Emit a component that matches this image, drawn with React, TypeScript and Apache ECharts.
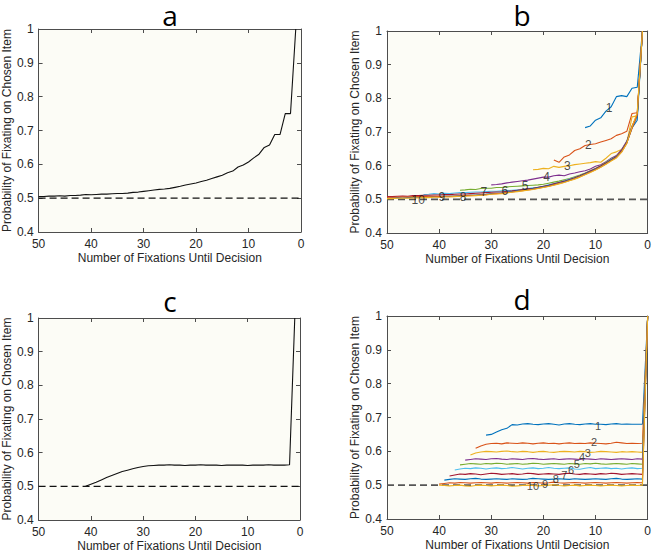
import React, { useEffect, useRef } from "react";
import * as echarts from "echarts";

// ---------- data ----------
const panelTitles = ["a", "b", "c", "d"];
const xAxisName = "Number of Fixations Until Decision";
const yAxisName = "Probability of Fixating on Chosen Item";
const chanceLevel = 0.5;
const xRange = [0, 50];
const yRange = [0.4, 1];

// MATLAB default colour order (cycled)
const seriesColors = ["#0072BD", "#D95319", "#EDB120", "#7E2F8E", "#77AC30", "#4DBEEE", "#A2142F", "#0072BD", "#D95319", "#EDB120"];

// Panel a: x from 50 down to 1
const aStart = 50;
const aValues = [
  0.505, 0.505, 0.506, 0.506, 0.507, 0.506, 0.508, 0.508, 0.509, 0.511,
  0.510, 0.511, 0.512, 0.512, 0.513, 0.514, 0.514, 0.515, 0.517, 0.518,
  0.520, 0.522, 0.524, 0.526, 0.527, 0.529, 0.532, 0.535, 0.539, 0.542,
  0.545, 0.549, 0.553, 0.558, 0.563, 0.568, 0.575, 0.580, 0.592, 0.598,
  0.607, 0.619, 0.630, 0.650, 0.657, 0.688, 0.688, 0.750, 0.750, 1.0,
];

// Panel b: series k starts at bStarts[k] and runs down to x = 1
const bStarts = [12, 18, 22, 30, 36, 43, 50, 50, 50, 50];
const b1 = [0.713, 0.718, 0.735, 0.742, 0.762, 0.775, 0.805, 0.808, 0.805, 0.830, 0.833, 1.0];
const b2 = [0.617, 0.610, 0.626, 0.632, 0.645, 0.650, 0.660, 0.663, 0.665, 0.670, 0.675, 0.680, 0.690, 0.695, 0.702, 0.755, 0.757, 1.0];
const b3 = [0.588, 0.589, 0.592, 0.591, 0.598, 0.595, 0.598, 0.600, 0.603, 0.605, 0.607, 0.609, 0.612, 0.610, 0.622, 0.636, 0.641, 0.648, 0.668, 0.745, 0.748, 1.0];
const b4 = [
  0.543, 0.544, 0.546, 0.549, 0.551, 0.553, 0.555, 0.557, 0.560, 0.563,
  0.566, 0.566, 0.570, 0.572, 0.570, 0.575, 0.578, 0.582, 0.585, 0.590,
  0.598, 0.603, 0.612, 0.622, 0.630, 0.648, 0.673, 0.718, 0.748, 1.0,
];
const b5 = [
  0.527, 0.528, 0.530, 0.529, 0.532, 0.533, 0.533, 0.535, 0.535, 0.537,
  0.538, 0.539, 0.540, 0.541, 0.542, 0.543, 0.545, 0.548, 0.551, 0.554,
  0.558, 0.562, 0.567, 0.572, 0.578, 0.585, 0.592, 0.600, 0.610, 0.620,
  0.628, 0.645, 0.671, 0.716, 0.746, 1.0,
];
const b6 = [
  0.514, 0.515, 0.517, 0.516, 0.518, 0.517, 0.519, 0.520, 0.520, 0.521,
  0.522, 0.522, 0.523, 0.524, 0.524, 0.525, 0.526, 0.527, 0.528, 0.530,
  0.532, 0.534, 0.536, 0.539, 0.543, 0.547, 0.551, 0.555, 0.560, 0.565,
  0.570, 0.577, 0.584, 0.591, 0.599, 0.608, 0.619, 0.627, 0.644, 0.670,
  0.714, 0.744, 1.0,
];
const b7 = [
  0.508, 0.508, 0.509, 0.510, 0.509, 0.511, 0.511, 0.512, 0.512, 0.513,
  0.513, 0.514, 0.514, 0.515, 0.516, 0.516, 0.517, 0.518, 0.519, 0.520,
  0.521, 0.522, 0.522, 0.524, 0.525, 0.527, 0.529, 0.531, 0.533, 0.536,
  0.539, 0.542, 0.546, 0.550, 0.554, 0.559, 0.564, 0.570, 0.577, 0.584,
  0.591, 0.599, 0.608, 0.618, 0.627, 0.645, 0.670, 0.715, 0.752, 1.0,
];
const b8 = [
  0.503, 0.504, 0.505, 0.504, 0.505, 0.506, 0.506, 0.507, 0.507, 0.508,
  0.508, 0.509, 0.509, 0.510, 0.511, 0.511, 0.512, 0.513, 0.514, 0.515,
  0.517, 0.518, 0.519, 0.521, 0.523, 0.525, 0.527, 0.529, 0.531, 0.534,
  0.537, 0.540, 0.544, 0.548, 0.552, 0.557, 0.562, 0.568, 0.575, 0.582,
  0.589, 0.597, 0.606, 0.616, 0.625, 0.642, 0.668, 0.712, 0.735, 1.0,
];
const b9 = [
  0.506, 0.506, 0.507, 0.507, 0.507, 0.508, 0.508, 0.508, 0.509, 0.509,
  0.508, 0.509, 0.509, 0.510, 0.510, 0.511, 0.512, 0.512, 0.513, 0.514,
  0.516, 0.517, 0.518, 0.520, 0.522, 0.524, 0.526, 0.528, 0.530, 0.533,
  0.536, 0.539, 0.543, 0.547, 0.551, 0.556, 0.561, 0.567, 0.574, 0.581,
  0.588, 0.596, 0.605, 0.615, 0.624, 0.641, 0.667, 0.711, 0.750, 1.0,
];
const b10 = [
  0.502, 0.502, 0.503, 0.503, 0.503, 0.504, 0.504, 0.505, 0.505, 0.506,
  0.506, 0.507, 0.507, 0.508, 0.509, 0.509, 0.510, 0.511, 0.512, 0.513,
  0.515, 0.516, 0.517, 0.519, 0.521, 0.523, 0.525, 0.527, 0.529, 0.532,
  0.535, 0.538, 0.542, 0.546, 0.550, 0.555, 0.560, 0.566, 0.573, 0.580,
  0.587, 0.595, 0.604, 0.614, 0.623, 0.640, 0.666, 0.716, 0.757, 1.0,
];
const bSeries = [b1, b2, b3, b4, b5, b6, b7, b8, b9, b10];
const curveLabels = ["1", "2", "3", "4", "5", "6", "7", "8", "9", "10"];
const bLabelX = [7.4, 11.4, 15.4, 19.4, 23.5, 27.4, 31.4, 35.4, 39.5, 44];
const bLabelY = [0.771, 0.662, 0.600, 0.565, 0.539, 0.525, 0.521, 0.507, 0.507, 0.499];

// Panel c: x from 41 down to 1
const cStart = 41;
const cValues = [
  0.500, 0.506, 0.512, 0.519, 0.526, 0.532, 0.538, 0.544, 0.548, 0.552,
  0.556, 0.559, 0.561, 0.562, 0.563, 0.563, 0.564, 0.563, 0.563, 0.562,
  0.563, 0.563, 0.564, 0.563, 0.563, 0.563, 0.562, 0.563, 0.563, 0.563,
  0.563, 0.562, 0.563, 0.563, 0.563, 0.564, 0.563, 0.563, 0.563, 0.564,
  1.0,
];

// Panel d: series k starts at dStarts[k] and runs down to x = 0
const dStarts = [31, 33, 34, 35, 36, 37, 38, 39, 40, 40];
const d1 = [
  0.648, 0.650, 0.657, 0.664, 0.668, 0.679, 0.678, 0.681, 0.682, 0.680,
  0.679, 0.681, 0.682, 0.680, 0.678, 0.681, 0.682, 0.680, 0.679, 0.681,
  0.682, 0.680, 0.680, 0.679, 0.681, 0.682, 0.680, 0.681, 0.680, 0.680,
  0.680, 1.0,
];
const d2 = [
  0.609, 0.616, 0.621, 0.623, 0.624, 0.622, 0.625, 0.624, 0.623, 0.625,
  0.624, 0.622, 0.624, 0.625, 0.623, 0.624, 0.622, 0.624, 0.625, 0.623,
  0.624, 0.623, 0.625, 0.624, 0.623, 0.622, 0.624, 0.627, 0.625, 0.623,
  0.624, 0.623, 0.624, 1.0,
];
const d3 = [
  0.589, 0.595, 0.598, 0.600, 0.599, 0.598, 0.600, 0.601, 0.599, 0.598,
  0.600, 0.599, 0.597, 0.599, 0.600, 0.598, 0.597, 0.599, 0.600, 0.599,
  0.598, 0.600, 0.599, 0.597, 0.598, 0.600, 0.599, 0.598, 0.597, 0.599,
  0.598, 0.599, 0.598, 0.597, 1.0,
];
const d4 = [
  0.574, 0.576, 0.578, 0.577, 0.576, 0.578, 0.579, 0.577, 0.576, 0.578,
  0.577, 0.576, 0.578, 0.579, 0.577, 0.576, 0.577, 0.578, 0.576, 0.577,
  0.578, 0.577, 0.576, 0.578, 0.577, 0.576, 0.578, 0.577, 0.576, 0.577,
  0.578, 0.577, 0.576, 0.578, 0.577, 1.0,
];
const d5 = [
  0.560, 0.562, 0.564, 0.563, 0.562, 0.564, 0.563, 0.565, 0.564, 0.562,
  0.563, 0.564, 0.562, 0.563, 0.565, 0.564, 0.562, 0.563, 0.564, 0.563,
  0.562, 0.564, 0.563, 0.562, 0.564, 0.563, 0.565, 0.563, 0.562, 0.563,
  0.564, 0.563, 0.562, 0.564, 0.563, 0.562, 1.0,
];
const d6 = [
  0.545, 0.548, 0.550, 0.549, 0.551, 0.550, 0.548, 0.550, 0.551, 0.549,
  0.550, 0.552, 0.550, 0.548, 0.550, 0.551, 0.549, 0.550, 0.552, 0.550,
  0.549, 0.550, 0.551, 0.548, 0.547, 0.550, 0.552, 0.549, 0.550, 0.551,
  0.549, 0.550, 0.548, 0.550, 0.551, 0.549, 0.550, 1.0,
];
const d7 = [
  0.527, 0.530, 0.533, 0.532, 0.534, 0.533, 0.531, 0.533, 0.535, 0.534,
  0.532, 0.533, 0.534, 0.532, 0.533, 0.535, 0.534, 0.532, 0.533, 0.534,
  0.533, 0.532, 0.534, 0.535, 0.533, 0.532, 0.534, 0.533, 0.532, 0.534,
  0.533, 0.535, 0.534, 0.532, 0.533, 0.534, 0.533, 0.532, 1.0,
];
const d8 = [
  0.515, 0.517, 0.519, 0.518, 0.517, 0.519, 0.520, 0.518, 0.517, 0.518,
  0.519, 0.518, 0.517, 0.519, 0.518, 0.517, 0.518, 0.520, 0.519, 0.518,
  0.517, 0.518, 0.519, 0.518, 0.517, 0.519, 0.518, 0.517, 0.518, 0.519,
  0.518, 0.517, 0.519, 0.520, 0.518, 0.517, 0.518, 0.519, 0.518, 1.0,
];
const d9 = [
  0.503, 0.505, 0.507, 0.506, 0.508, 0.507, 0.506, 0.507, 0.508, 0.507,
  0.506, 0.508, 0.507, 0.506, 0.507, 0.508, 0.507, 0.506, 0.508, 0.507,
  0.506, 0.507, 0.509, 0.507, 0.506, 0.507, 0.508, 0.507, 0.506, 0.507,
  0.508, 0.507, 0.506, 0.507, 0.508, 0.507, 0.506, 0.507, 0.508, 0.507,
  1.0,
];
const d10 = [
  0.500, 0.499, 0.498, 0.499, 0.500, 0.498, 0.497, 0.499, 0.500, 0.499,
  0.498, 0.499, 0.500, 0.499, 0.497, 0.498, 0.499, 0.500, 0.499, 0.498,
  0.499, 0.500, 0.501, 0.499, 0.498, 0.499, 0.500, 0.498, 0.499, 0.500,
  0.499, 0.498, 0.499, 0.500, 0.499, 0.498, 0.499, 0.500, 0.499, 0.500,
  1.0,
];
const dSeries = [d1, d2, d3, d4, d5, d6, d7, d8, d9, d10];
const dLabelX = [9.5, 10.3, 11.5, 12.6, 13.6, 14.7, 16.0, 17.6, 19.7, 22.0];
const dLabelY = [0.676, 0.628, 0.596, 0.582, 0.562, 0.546, 0.529, 0.517, 0.503, 0.498];

// ---------- layout / style ----------
const FONT = "'Liberation Sans', Arial, sans-serif";
const axisColor = "#4d4d4d";
const textColor = "#262626";
const plotBg = "#fcfcf6";
const grids = [
  { left: 36, top: 29, width: 265, height: 203 },
  { left: 387, top: 31, width: 263, height: 202 },
  { left: 36, top: 318, width: 264, height: 203 },
  { left: 387, top: 316, width: 263, height: 203 },
];
const titlePos = [
  [170, 15],
  [522, 15],
  [170, 301],
  [522, 299],
];

const toPairs = (start: number, vals: number[]) => vals.map((v, i) => [start - i, v]);

function buildOption() {
  const xAxes: any[] = [];
  const yAxes: any[] = [];
  const series: any[] = [];

  grids.forEach((_, i) => {
    const tick = { show: true, inside: true, length: 4, lineStyle: { color: axisColor } };
    const line = { show: true, onZero: false, lineStyle: { color: axisColor, width: 1 } };
    xAxes.push({
      type: "value", gridIndex: i, min: xRange[0], max: xRange[1], interval: 10, inverse: true,
      position: "bottom", name: xAxisName, nameLocation: "middle", nameGap: 20,
      nameTextStyle: { fontSize: 12, color: textColor, fontFamily: FONT },
      axisLine: line, axisTick: tick, splitLine: { show: false },
      axisLabel: { color: textColor, fontSize: 12, fontFamily: FONT, margin: 6 },
    });
    xAxes.push({
      type: "value", gridIndex: i, min: xRange[0], max: xRange[1], interval: 10, inverse: true,
      position: "top", axisLine: line, axisTick: tick, splitLine: { show: false },
      axisLabel: { show: false },
    });
    yAxes.push({
      type: "value", gridIndex: i, min: yRange[0], max: yRange[1], interval: 0.1,
      position: "left", name: yAxisName, nameLocation: "middle", nameGap: 23, nameRotate: 90,
      nameTextStyle: { fontSize: 12, color: textColor, fontFamily: FONT },
      axisLine: line, axisTick: tick, splitLine: { show: false },
      axisLabel: { color: textColor, fontSize: 12, fontFamily: FONT, margin: 5 },
    });
    yAxes.push({
      type: "value", gridIndex: i, min: yRange[0], max: yRange[1], interval: 0.1,
      position: "right", axisLine: line, axisTick: tick, splitLine: { show: false },
      axisLabel: { show: false },
    });
    const gray = i === 1 || i === 3;
    series.push({
      type: "line", xAxisIndex: 2 * i, yAxisIndex: 2 * i, symbol: "none", silent: true, z: 1,
      data: [[xRange[1], chanceLevel], [xRange[0], chanceLevel]],
      lineStyle: { color: gray ? "#555" : "#111", width: gray ? 1.6 : 1.1, type: [7, 4] },
    });
  });

  series.push({
    type: "line", xAxisIndex: 0, yAxisIndex: 0, symbol: "none", z: 3,
    data: toPairs(aStart, aValues), lineStyle: { color: "#111", width: 1.1 },
  });
  series.push({
    type: "line", xAxisIndex: 4, yAxisIndex: 4, symbol: "none", z: 3,
    data: toPairs(cStart, cValues), lineStyle: { color: "#111", width: 1.1 },
  });

  bSeries.forEach((vals, k) => {
    series.push({
      type: "line", xAxisIndex: 2, yAxisIndex: 2, symbol: "none", z: 3,
      data: toPairs(bStarts[k], vals), lineStyle: { color: seriesColors[k], width: 1.1 },
    });
  });
  dSeries.forEach((vals, k) => {
    series.push({
      type: "line", xAxisIndex: 6, yAxisIndex: 6, symbol: "none", z: 3,
      data: toPairs(dStarts[k], vals), lineStyle: { color: seriesColors[k], width: 1.1 },
    });
  });

  const labelSeries = (axisIdx: number, xs: number[], ys: number[], size: number) => ({
    type: "scatter", xAxisIndex: axisIdx, yAxisIndex: axisIdx, symbolSize: 0, z: 5, silent: true,
    data: xs.map((x, k) => ({ value: [x, ys[k]], name: curveLabels[k] })),
    label: {
      show: true, position: "inside", formatter: (p: any) => p.name,
      color: "#1a1a1a", fontSize: size, fontFamily: FONT,
    },
  });
  series.push(labelSeries(2, bLabelX, bLabelY, 12));
  series.push(labelSeries(6, dLabelX, dLabelY, 11));

  return {
    animation: false,
    backgroundColor: "#ffffff",
    grid: grids.map((g) => ({ ...g, show: true, backgroundColor: plotBg, borderWidth: 0, containLabel: false })),
    xAxis: xAxes,
    yAxis: yAxes,
    series,
    graphic: panelTitles.map((t, i) => ({
      type: "text", x: titlePos[i][0], y: titlePos[i][1], z: 10,
      style: { text: t, fontSize: 28, lineHeight: 28, fontFamily: "'Open Sans', 'Noto Sans', sans-serif", fill: "#000", align: "center", verticalAlign: "middle" },
    })),
  };
}

export default function App() {
  const ref = useRef<HTMLDivElement>(null);
  useEffect(() => {
    if (!ref.current) return;
    const chart = echarts.init(ref.current, undefined, { renderer: "svg" });
    chart.setOption(buildOption() as any);
    return () => chart.dispose();
  }, []);
  return (
    <div
      ref={ref}
      style={{ position: "absolute", left: 0, top: 0, width: 654, height: 553, background: "#fff" }}
    />
  );
}
